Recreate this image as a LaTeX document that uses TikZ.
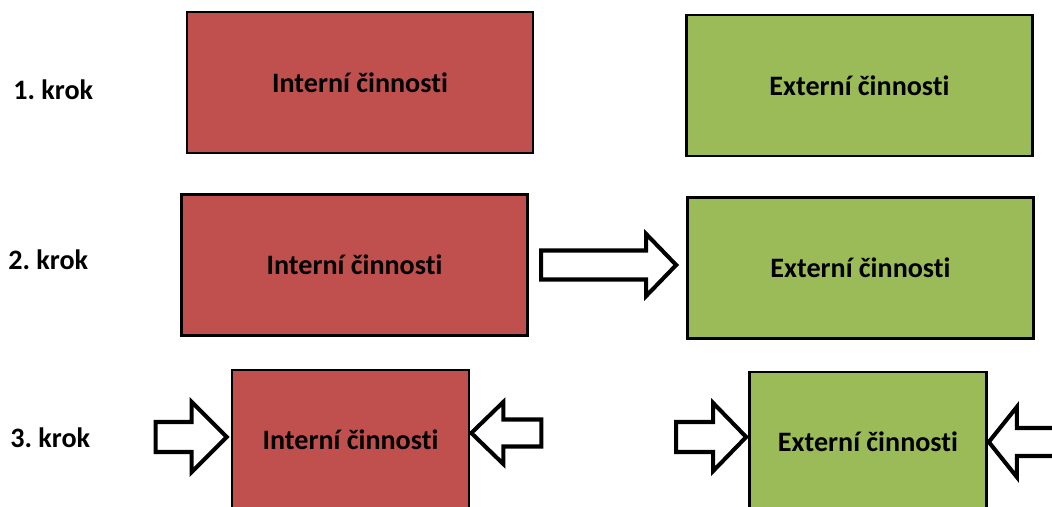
\documentclass[tikz,border=0pt]{standalone}
\usepackage{fontspec}
\setmainfont{Carlito}[Ligatures=NoCommon]
\usepackage{tikz}
\usetikzlibrary{positioning,calc}
\definecolor{intred}{HTML}{C0504D}
\definecolor{extgreen}{HTML}{9BBB59}
\frenchspacing

\begin{document}
\begin{tikzpicture}[
  x=0.02cm, y=-0.02cm,
  font=\fontsize{16}{19}\selectfont\bfseries,
  actbox/.style={draw, line width=1.5pt, minimum width=346*0.02cm, minimum height=141*0.02cm, inner sep=0pt},
  intbox/.style={actbox, fill=intred},
  extbox/.style={actbox, fill=extgreen},
  smallbox/.style={minimum width=237*0.02cm, minimum height=140*0.02cm},
  kroklabel/.style={anchor=west, inner sep=0pt},
  blockarr/.style={draw, line width=2.3pt, fill=white, line join=miter},
  ]
  \useasboundingbox (0,0) rectangle (1052,507);
  \clip (0,0) rectangle (1052,507);

  % labels of the steps
  \node[kroklabel] (k1) at (13,90)  {1. krok};
  \node[kroklabel] (k2) at (8,260)  {2. krok};
  \node[kroklabel] (k3) at (10,438) {3. krok};

  % 1. krok
  \node[intbox] (r1) at (360,82.5) {Interní činnosti};
  \node[extbox] (g1) at (859.5,85.5) {Externí činnosti};

  % 2. krok
  \node[intbox] (r2) at (354.5,265) {Interní činnosti};
  \node[extbox] (g2) at (860.5,268) {Externí činnosti};
  \draw[blockarr] ($(g2.west)+(-10,-3)$) -- ++(-30,-31) -- ++(0,16.5) -- ++(-105,0)
    -- ++(0,29) -- ++(105,0) -- ++(0,16.5) -- cycle;

  % 3. krok
  \node[intbox, smallbox] (r3) at (350.5,440) {Interní činnosti};
  \node[extbox, smallbox] (g3) at (868,442) {Externí činnosti};
  \draw[blockarr] ($(r3.west)+(-4,-3)$) -- ++(-35,-35) -- ++(0,20) -- ++(-36,0)
    -- ++(0,30) -- ++(36,0) -- ++(0,20) -- cycle;
  \draw[blockarr] ($(r3.east)+(1,-7)$) -- ++(32,-31) -- ++(0,17.5) -- ++(38,0)
    -- ++(0,27) -- ++(-38,0) -- ++(0,17.5) -- cycle;
  \draw[blockarr] ($(g3.west)+(-2,-5)$) -- ++(-33,-34) -- ++(0,19) -- ++(-37,0)
    -- ++(0,30) -- ++(37,0) -- ++(0,19) -- cycle;
  \draw[blockarr] ($(g3.east)+(1,0)$) -- ++(28,-35) -- ++(0,21) -- ++(52,0)
    -- ++(0,28) -- ++(-52,0) -- ++(0,21) -- cycle;
\end{tikzpicture}
\end{document}
